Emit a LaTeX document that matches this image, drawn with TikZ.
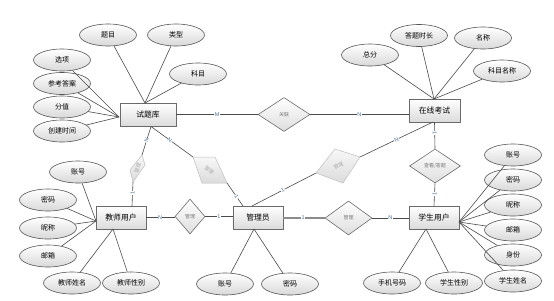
\documentclass[tikz,border=0pt]{standalone}
\usepackage{fontspec}
\setmainfont{Noto Sans CJK SC}
\newfontfamily\labfont{Liberation Sans}
\usetikzlibrary{shapes.geometric}
\definecolor{boxdraw}{HTML}{6A6A6A}
\definecolor{elldraw}{HTML}{555555}
\definecolor{lnkcol}{HTML}{4A4A4A}
\definecolor{labcol}{HTML}{4A6F96}
\definecolor{reltext}{HTML}{7A7A7A}
\definecolor{ghostdraw}{HTML}{BDBDBD}
\definecolor{ghosttext}{HTML}{A8A8A8}
\tikzset{
  ent/.style={rectangle, draw=boxdraw, line width=0.8pt, top color=white, bottom color=black!14,
    minimum width=50pt, minimum height=23pt, inner sep=1pt, font=\fontsize{7.8}{9}\selectfont},
  attr/.style={ellipse, draw=elldraw, line width=0.6pt, top color=white, bottom color=black!15,
    minimum width=57pt, minimum height=22pt, inner sep=0.5pt, font=\fontsize{7}{8}\selectfont},
  rel/.style={diamond, draw=black!58, line width=0.6pt, top color=white, bottom color=black!13,
    inner sep=0pt, text=reltext, font=\fontsize{5}{6}\selectfont},
  ghost/.style={draw=ghostdraw, line width=0.5pt, top color=black!3, bottom color=black!14},
  ghosttxt/.style={text=ghosttext, font=\fontsize{5}{6}\selectfont, inner sep=0pt},
  lnk/.style={draw=lnkcol, line width=0.6pt},
  lab/.style={font=\labfont\fontsize{5.5}{6}\selectfont, text=labcol, fill=white, inner sep=0.4pt},
}
\begin{document}
\begin{tikzpicture}[x=1pt,y=-1pt]
\useasboundingbox (0,0) rectangle (554,300);

% entities
\node[ent, minimum width=56pt] (bank) at (148,114.5) {试题库};
\node[ent, minimum width=51pt] (exam) at (434.5,110.5) {在线考试};
\node[ent] (tch) at (121,217.5) {教师用户};
\node[ent] (adm) at (258,217.5) {管理员};
\node[ent] (stu) at (434,217.5) {学生用户};

% relationships
\node[rel, minimum width=52pt, minimum height=34pt] (assoc) at (284,114.5) {关联};
\node[rel, minimum width=30pt, minimum height=35pt] (r1) at (190,216.5) {管理};
\node[rel, minimum width=47pt, minimum height=34pt] (r2) at (348.5,218) {管理};
\node[rel, minimum width=51pt, minimum height=34pt] (r3) at (435,166) {查看/答题};

% ghost diamonds (skewed)
\coordinate (d1t) at (142,155); \coordinate (d1r) at (145,165);
\coordinate (d1b) at (133,182); \coordinate (d1l) at (130,170);
\path[ghost] (d1t) -- (d1r) -- (d1b) -- (d1l) -- cycle;
\node[ghosttxt, rotate=72] (g1) at (137.5,168) {管理};

\coordinate (d2a) at (193,157); \coordinate (d2b) at (215,157);
\coordinate (d2c) at (227,183); \coordinate (d2d) at (202,183);
\path[ghost] (d2a) -- (d2b) -- (d2c) -- (d2d) -- cycle;
\node[ghosttxt, rotate=-40] (g2) at (209.25,170) {管理};

\coordinate (d3l) at (316,173); \coordinate (d3t) at (335,149);
\coordinate (d3r) at (360,157); \coordinate (d3b) at (343,183);
\path[ghost] (d3l) -- (d3t) -- (d3r) -- (d3b) -- cycle;
\node[ghosttxt, rotate=27] (g3) at (338.5,165.5) {管理};

% attributes of 试题库
\node[attr] (a1) at (108,35) {题目};
\node[attr] (a2) at (176,35) {类型};
\node[attr] (a3) at (198,74) {科目};
\node[attr] (a4) at (62,60) {选项};
\node[attr] (a5) at (62,83.5) {参考答案};
\node[attr] (a6) at (62,107) {分值};
\node[attr] (a7) at (62,131) {创建时间};
\coordinate (cb1) at (119,117);
\coordinate (cb2) at (145,103);
\foreach \n in {a4,a5,a6,a7} \draw[lnk] (\n) -- (cb1);
\foreach \n in {a1,a2,a3} \draw[lnk] (\n) -- (cb2);

% attributes of 在线考试
\node[attr] (e1) at (370,55) {总分};
\node[attr] (e2) at (419,35.5) {答题时长};
\node[attr] (e3) at (483,38) {名称};
\node[attr] (e4) at (502,71) {科目名称};
\coordinate (ce) at (434,99);
\foreach \n in {e1,e2,e3,e4} \draw[lnk] (\n) -- (ce);

% attributes of 教师用户
\node[attr] (t1) at (78,172) {账号};
\node[attr] (t2) at (48,200) {密码};
\node[attr] (t3) at (48,228) {昵称};
\node[attr] (t4) at (48,256) {邮箱};
\node[attr] (t5) at (72,283) {教师姓名};
\node[attr] (t6) at (131,283) {教师性别};
\coordinate (ct1) at (96,221);
\coordinate (ct2) at (113,229);
\foreach \n in {t1,t2,t3,t4} \draw[lnk] (\n) -- (ct1);
\foreach \n in {t5,t6} \draw[lnk] (\n) -- (ct2);

% attributes of 管理员
\node[attr] (m1) at (225,284) {账号};
\node[attr] (m2) at (290,284) {密码};
\coordinate (cm) at (254,229);
\foreach \n in {m1,m2} \draw[lnk] (\n) -- (cm);

% attributes of 学生用户
\node[attr] (s1) at (513,155) {账号};
\node[attr] (s2) at (513,180) {密码};
\node[attr] (s3) at (513,205) {昵称};
\node[attr] (s4) at (513,230) {邮箱};
\node[attr] (s5) at (513,255) {身份};
\node[attr] (s6) at (513,281) {学生姓名};
\node[attr] (s7) at (392,283) {手机号码};
\node[attr] (s8) at (454,283) {学生性别};
\coordinate (cs1) at (459,222);
\coordinate (cs2) at (426,229);
\foreach \n in {s1,s2,s3,s4,s5,s6} \draw[lnk] (\n) -- (cs1);
\foreach \n in {s7,s8} \draw[lnk] (\n) -- (cs2);

% relationship connectors
\draw[lnk] (bank.east) -- node[lab, pos=0.5] {M} (assoc.west);
\draw[lnk] (assoc.east) -- node[lab, pos=0.5] {N} (assoc.east -| exam.west);

\coordinate (cb3) at (151,126.5);
\coordinate (ct3) at (132,206);
\draw[lnk] (cb3) -- node[lab, sloped, pos=0.48] {N} (d1t);
\draw[lnk] (d1b) -- node[lab, sloped, pos=0.46] {1} (ct3);

\coordinate (cm2) at (243,206);
\draw[lnk] (cb3) -- node[lab, sloped, pos=0.45] {N} (d2a);
\draw[lnk] (d2c) -- node[lab, sloped, pos=0.6] {1} (cm2);

\coordinate (cm3) at (252,206);
\coordinate (ce2) at (433,122);
\draw[lnk] (cm3) -- node[lab, sloped, pos=0.48] {1} (d3l);
\draw[lnk] (d3r) -- node[lab, sloped, pos=0.5] {N} (ce2);

\draw[lnk] (tch.east) -- node[lab, pos=0.48] {N} (tch.east -| r1.west);
\draw[lnk] (r1.east) -- node[lab, pos=0.5] {1} (r1.east -| adm.west);

\draw[draw=black!45, line width=1.3pt] (adm.east |- r2.west) -- node[lab, pos=0.48] {1} (r2.west);
\draw[lnk] (r2.east) -- node[lab, pos=0.5] {N} (r2.east -| stu.west);

\draw[lnk] (exam.south) -- node[lab, sloped, pos=0.4] {1} (r3.north);
\draw[lnk] (r3.south) -- node[lab, sloped, pos=0.48] {1} (stu.north);
\end{tikzpicture}
\end{document}
